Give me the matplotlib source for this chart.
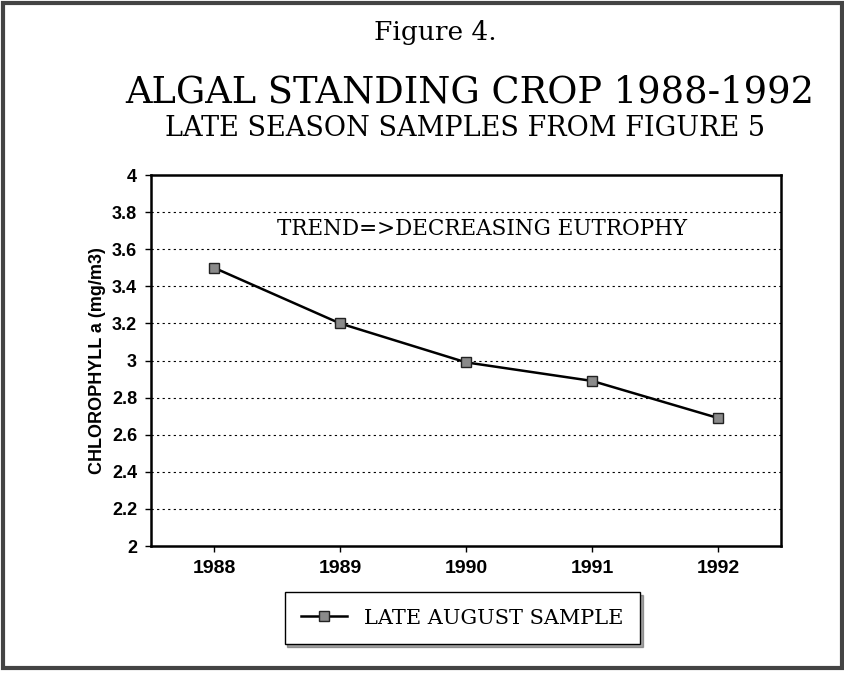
import matplotlib
matplotlib.use("Agg")
import matplotlib.pyplot as plt
from matplotlib.patches import Rectangle

# data
years = ["1988", "1989", "1990", "1991", "1992"]
chl_a = [3.50, 3.20, 2.99, 2.89, 2.69]
y_ticks = [2, 2.2, 2.4, 2.6, 2.8, 3, 3.2, 3.4, 3.6, 3.8, 4]
series_name = "LATE AUGUST SAMPLE"

serif = "DejaVu Serif"
sans = "Liberation Sans"

fig = plt.figure(figsize=(8.45, 6.77), dpi=100)
ax = fig.add_axes([0.1787, 0.1935, 0.7456, 0.548])

xs = list(range(len(years)))
ax.plot(xs, chl_a, color="black", linewidth=1.8, marker="s", markersize=7,
        markerfacecolor="#8a8a8a", markeredgecolor="#222222", markeredgewidth=1,
        label=series_name, zorder=3)

ax.set_xlim(-0.5, len(years) - 0.5)
ax.set_ylim(2, 4)
ax.set_xticks(xs)
ax.set_xticklabels(years, fontfamily=sans, fontweight="bold", fontsize=14)
ax.set_yticks(y_ticks)
ax.set_yticklabels([f"{v:g}" for v in y_ticks], fontfamily=sans, fontweight="bold", fontsize=13)
ax.tick_params(direction="out", length=4, width=1, color="black", pad=6)

# dotted grid at every 0.2
for v in y_ticks[1:-1]:
    ax.axhline(v, color="black", linewidth=0.8, linestyle=(0, (2, 3)), zorder=1)

for s in ax.spines.values():
    s.set_linewidth(1.8)
    s.set_color("black")

ax.set_ylabel("CHLOROPHYLL a (mg/m3)", fontfamily=sans, fontweight="bold", fontsize=13, labelpad=4)

ax.text(2.13, 3.71, "TREND=>DECREASING EUTROPHY", fontfamily=serif, fontsize=15.5,
        ha="center", va="center")

# titles
fig.text(0.515, 0.941, "Figure 4.", fontfamily=serif, fontsize=19, ha="center", va="baseline")
fig.text(0.556, 0.849, "ALGAL STANDING CROP 1988-1992", fontfamily=serif, fontsize=26.5,
         ha="center", va="baseline")
fig.text(0.550, 0.799, "LATE SEASON SAMPLES FROM FIGURE 5", fontfamily=serif, fontsize=19.5,
         ha="center", va="baseline")

leg = fig.legend(loc="center", bbox_to_anchor=(0.547, 0.087), prop={"family": serif, "size": 15},
                 frameon=True, fancybox=False, shadow=True, edgecolor="black",
                 handlelength=2.2, borderpad=0.8)
leg.get_frame().set_linewidth(1)

# scanned page frame
fig.patches.append(Rectangle((0.003, 0.013), 0.994, 0.982, transform=fig.transFigure,
                             fill=False, edgecolor="#444444", linewidth=3))

fig.savefig("out.png", dpi=100)
